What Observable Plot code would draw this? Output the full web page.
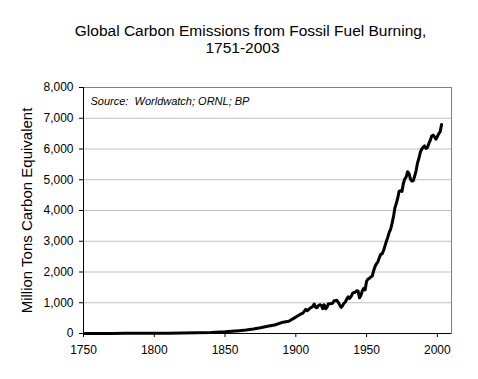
<!DOCTYPE html>
<html>
<head>
<meta charset="utf-8">
<script src="https://cdn.jsdelivr.net/npm/d3@7"></script>
<script src="https://cdn.jsdelivr.net/npm/@observablehq/plot@0.6"></script>
<style>
  html, body { margin: 0; padding: 0; background: #fff; }
  #chart { width: 478px; height: 379px; }
</style>
</head>
<body>
<div id="chart"></div>
<script>
const titleLines = ["Global Carbon Emissions from Fossil Fuel Burning,", "1751-2003"];
const yLabel = "Million Tons Carbon Equivalent";
const sourceNote = "Source:  Worldwatch; ORNL; BP";
const xTicks = [1750, 1800, 1850, 1900, 1950, 2000];
const yTicks = [0, 1000, 2000, 3000, 4000, 5000, 6000, 7000, 8000];
const years = [
  1751, 1760, 1770, 1780, 1790, 1800, 1810, 1820, 1830, 1840,
  1850, 1855, 1860, 1865, 1870, 1875, 1880, 1885, 1890, 1895,
  1900, 1903, 1905, 1907, 1908, 1910, 1912, 1913, 1914, 1915,
  1916, 1917, 1918, 1919, 1920, 1921, 1922, 1923, 1924, 1925,
  1926, 1927, 1928, 1929, 1930, 1931, 1932, 1933, 1934, 1935,
  1936, 1937, 1938, 1939, 1940, 1941, 1942, 1943, 1944, 1945,
  1946, 1947, 1948, 1949, 1950, 1951, 1952, 1953, 1954, 1955,
  1956, 1957, 1958, 1959, 1960, 1961, 1962, 1963, 1964, 1965,
  1966, 1967, 1968, 1969, 1970, 1971, 1972, 1973, 1974, 1975,
  1976, 1977, 1978, 1979, 1980, 1981, 1982, 1983, 1984, 1985,
  1986, 1987, 1988, 1989, 1990, 1991, 1992, 1993, 1994, 1995,
  1996, 1997, 1998, 1999, 2000, 2001, 2002, 2003
];
const emissions = [
  3, 3, 4, 5, 7, 8, 10, 14, 24, 33,
  54, 70, 91, 115, 147, 188, 236, 277, 356, 400,
  534, 620, 663, 785, 740, 819, 880, 960, 850, 840,
  910, 936, 918, 806, 932, 803, 845, 970, 963, 975,
  983, 1062, 1065, 1080, 1015, 930, 850, 900, 980, 1025,
  1120, 1191, 1140, 1200, 1299, 1334, 1342, 1391, 1383, 1160,
  1238, 1392, 1469, 1419, 1700, 1770, 1795, 1840, 1870, 2040,
  2180, 2270, 2330, 2460, 2577, 2590, 2700, 2850, 3000, 3130,
  3290, 3390, 3580, 3800, 4080, 4230, 4400, 4630, 4640, 4620,
  4880, 5030, 5090, 5260, 5200, 5020, 4960, 4970, 5120, 5300,
  5550, 5700, 5900, 6000, 6060, 6100, 6020, 6050, 6180, 6280,
  6420, 6450, 6400, 6320, 6400, 6500, 6560, 6800
];
const data = years.map((year, i) => ({year, value: emissions[i]}));

const font = "Arial, 'Liberation Sans', Helvetica, sans-serif";
const chart = Plot.plot({
  width: 478,
  height: 379,
  marginLeft: 83,
  marginRight: 27,
  marginTop: 87,
  marginBottom: 46,
  style: {fontFamily: font, fontSize: "12px", background: "#fff", color: "#000", overflow: "visible"},
  x: {domain: [1750, 2010]},
  y: {domain: [0, 8000]},
  marks: [
    Plot.ruleY(yTicks.filter(d => d > 0 && d < 8000), {stroke: "#c0c0c0", strokeWidth: 1}),
    Plot.frame({stroke: "#808080", strokeWidth: 1}),
    Plot.axisY({ticks: yTicks, tickFormat: d3.format(","), tickSize: 4, tickPadding: 6, label: null, fontSize: 12, stroke: "#000"}),
    Plot.axisX({ticks: xTicks, tickFormat: "d", tickSize: 4, tickPadding: 8, label: null, fontSize: 12, stroke: "#000"}),
    Plot.ruleX([1750], {stroke: "#000", strokeWidth: 1}),
    Plot.ruleY([0], {stroke: "#000", strokeWidth: 1}),
    Plot.line(data, {x: "year", y: "value", stroke: "#000", strokeWidth: 3, strokeLinejoin: "round"}),
    Plot.text([sourceNote], {frameAnchor: "top-left", dx: 7, dy: 14, textAnchor: "start", lineAnchor: "middle", fontStyle: "italic", fontSize: 11, fill: "#000"}),
    Plot.text([yLabel], {frameAnchor: "left", dx: -56, rotate: -90, textAnchor: "middle", lineAnchor: "middle", fontSize: 15, fill: "#000"}),
    Plot.text([titleLines[0]], {frameAnchor: "top-left", dx: 167, dy: -56, textAnchor: "middle", lineAnchor: "middle", fontSize: 15.5, fill: "#000"}),
    Plot.text([titleLines[1]], {frameAnchor: "top-left", dx: 159, dy: -39, textAnchor: "middle", lineAnchor: "middle", fontSize: 15.5, fill: "#000"})
  ]
});
document.getElementById("chart").appendChild(chart);
</script>
</body>
</html>
